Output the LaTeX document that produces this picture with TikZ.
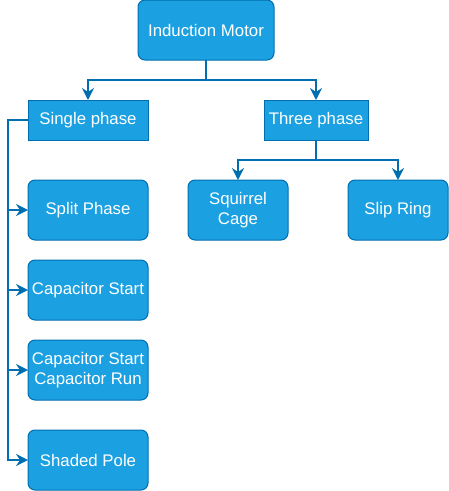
\documentclass[tikz,border=0pt]{standalone}
\usepackage{fontspec}
\setmainfont{Liberation Sans}
\usepackage{tikz}
\usetikzlibrary{positioning,arrows.meta}
\definecolor{boxfill}{HTML}{1BA1E2}
\definecolor{boxline}{HTML}{006EAF}
\tikzstyle{block} = [rectangle, draw=boxline, fill=boxfill, text=white, line width=1pt, inner sep=0pt, outer sep=0pt, align=center, font=\fontsize{16.8}{20}\selectfont]
\tikzstyle{kind} = [block, minimum height=40pt]
\tikzstyle{leaf} = [block, rounded corners=7pt, minimum height=60pt, minimum width=120pt]
\tikzstyle{line} = [draw=boxline, line width=1.8pt, -{Stealth[length=12pt,width=12pt,inset=4pt]}]

\begin{document}
\begin{tikzpicture}[x=1pt, y=1pt, node distance=20pt]
    \useasboundingbox (0,0) rectangle (449,-491);
    % Blocks
    \node [leaf, minimum width=136pt] (motor) at (206,-30) {Induction Motor};
    \node [kind, minimum width=120pt, below=40pt of motor, xshift=-118pt] (single) {Single phase};
    \node [kind, minimum width=104pt, below=40pt of motor, xshift=110pt] (three) {Three phase};
    % Single phase types
    \node [leaf, below=40pt of single] (split) {Split Phase};
    \node [leaf, below=of split] (capstart) {Capacitor Start};
    \node [leaf, below=of capstart] (caprun) {Capacitor Start\\Capacitor Run};
    \node [leaf, below=30pt of caprun] (shaded) {Shaded Pole};
    % Three phase types
    \node [leaf, minimum width=100pt, below=40pt of three, xshift=-78pt] (squirrel) {Squirrel\\Cage};
    \node [leaf, minimum width=100pt, below=40pt of three, xshift=82pt] (slip) {Slip Ring};
    % Lines
    \path [line] (motor.south) -- ++(0,-20) -| (single.north);
    \path [line] (motor.south) -- ++(0,-20) -| (three.north);
    \path [line] (three.south) -- ++(0,-20) -| (squirrel.north);
    \path [line] (three.south) -- ++(0,-20) -| (slip.north);
    \path [line] (single.west) -- ++(-20,0) |- (split.west);
    \path [line] (single.west) -- ++(-20,0) |- (capstart.west);
    \path [line] (single.west) -- ++(-20,0) |- (caprun.west);
    \path [line] (single.west) -- ++(-20,0) |- (shaded.west);
\end{tikzpicture}
\end{document}
